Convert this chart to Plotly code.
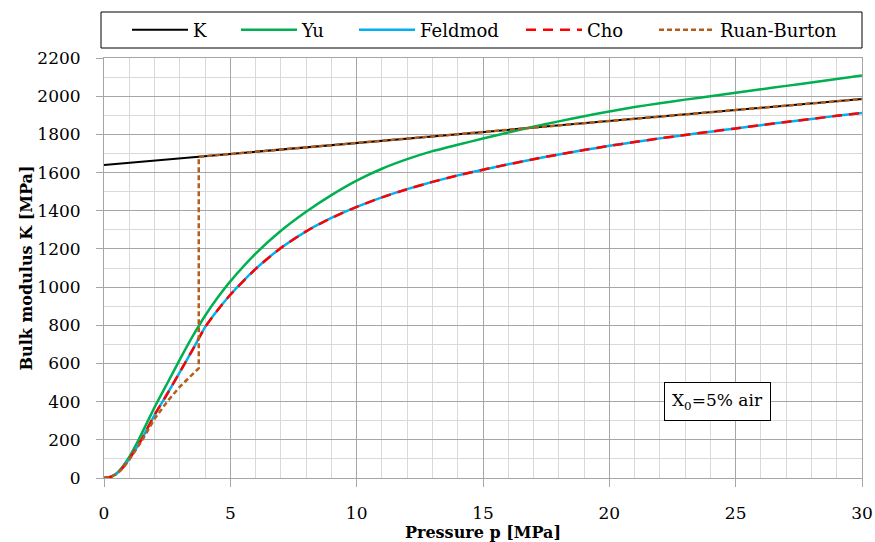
import plotly.graph_objects as go

# ---- data ----
p_vals = [0, 0.25, 0.5, 0.75, 1, 1.25, 1.5, 2, 2.5, 3, 3.5, 4, 4.5, 5, 6, 7, 8, 9, 10,
          11, 12, 13, 14, 15, 16, 17, 18, 19, 20, 21, 22, 23, 24, 25, 26, 27, 28, 29, 30]
yu_vals = [0, 6, 25, 62, 110, 170, 235, 370, 495, 620, 740, 850, 945, 1030, 1175, 1295, 1395, 1482, 1558,
           1620, 1670, 1712, 1746, 1778, 1810, 1840, 1868, 1895, 1920, 1943, 1963, 1982, 2000, 2018,
           2036, 2054, 2072, 2090, 2108]
feldmod_vals = [0, 5, 22, 55, 100, 150, 205, 330, 440, 555, 670, 790, 880, 960, 1095, 1205, 1292, 1362, 1420,
                1470, 1513, 1551, 1585, 1615, 1643, 1670, 1695, 1718, 1740, 1760, 1779, 1797, 1814, 1831,
                1848, 1865, 1881, 1897, 1912]
cho_vals = [0, 5, 22, 55, 100, 150, 205, 330, 440, 555, 670, 790, 880, 960, 1095, 1205, 1292, 1362, 1420,
            1470, 1513, 1551, 1585, 1615, 1643, 1670, 1695, 1718, 1740, 1760, 1779, 1797, 1814, 1831,
            1848, 1865, 1881, 1897, 1912]
k_p = [0, 30]
k_vals = [1640, 1985]
rb_p = [0, 0.25, 0.5, 0.75, 1, 1.25, 1.5, 2, 2.5, 3, 3.5, 3.75, 3.75, 30]
rb_vals = [0, 5, 20, 52, 95, 145, 195, 310, 400, 478, 545, 575, 1683, 1985]

x_ticks = [0, 5, 10, 15, 20, 25, 30]
y_ticks = [0, 200, 400, 600, 800, 1000, 1200, 1400, 1600, 1800, 2000, 2200]

FONT = "DejaVu Serif"
MAJOR = "#a6a6a6"
MINOR = "#d9d9d9"

L, R, T, B = 104, 13, 58, 64
W, H = 875, 542
PW = W - L - R
PH = H - T - B


def px_to_paper_x(px):
    return (px - L) / PW


def py_to_paper_y(py):
    return (H - B - py) / PH


fig = go.Figure()
fig.add_trace(go.Scatter(x=k_p, y=k_vals, mode="lines", name="K", legend="legend",
                         line=dict(color="black", width=2)))
fig.add_trace(go.Scatter(x=p_vals, y=yu_vals, mode="lines", name="Yu", legend="legend2",
                         line=dict(color="#00b050", width=2.5, shape="spline", smoothing=0.5)))
fig.add_trace(go.Scatter(x=p_vals, y=feldmod_vals, mode="lines", name="Feldmod", legend="legend3",
                         line=dict(color="#00b0f0", width=2.5, shape="spline", smoothing=0.5)))
fig.add_trace(go.Scatter(x=p_vals, y=cho_vals, mode="lines", name="Cho", legend="legend4",
                         line=dict(color="#ff0000", width=2.5, dash="10px,7px", shape="spline", smoothing=0.5)))
fig.add_trace(go.Scatter(x=rb_p, y=rb_vals, mode="lines", name="Ruan-Burton", legend="legend5",
                         line=dict(color="#b55d1b", width=2.5, dash="5px,3px")))

legend_starts = {"legend": 137, "legend2": 246, "legend3": 364, "legend4": 531, "legend5": 664}
legend_common = dict(orientation="h", yanchor="middle", xanchor="left", y=py_to_paper_y(30),
                     font=dict(family=FONT, size=18), itemwidth=56,
                     bgcolor="rgba(0,0,0,0)", borderwidth=0)
legend_layout = {}
for key, start in legend_starts.items():
    legend_layout[key] = dict(legend_common, x=px_to_paper_x(start - 10))

fig.update_layout(
    width=W, height=H,
    margin=dict(l=L, r=R, t=T, b=B),
    paper_bgcolor="white", plot_bgcolor="white",
    font=dict(family=FONT, size=17, color="black"),
    showlegend=True,
    xaxis=dict(range=[0, 30], tickvals=x_ticks, showgrid=True, gridcolor=MAJOR, gridwidth=1,
               showline=True, linecolor=MAJOR, linewidth=1, mirror=True, automargin=False,
               ticks="outside", ticklen=8, tickcolor=MAJOR, ticklabelstandoff=12,
               minor=dict(dtick=1, showgrid=True, gridcolor=MINOR, ticks=""),
               zeroline=False,
               title=dict(text="<b>Pressure p [MPa]</b>", font=dict(family=FONT, size=16), standoff=4)),
    yaxis=dict(range=[0, 2200], tickvals=y_ticks, showgrid=True, gridcolor=MAJOR, gridwidth=1,
               showline=True, linecolor=MAJOR, linewidth=1, mirror=True, automargin=False,
               ticks="outside", ticklen=7, tickcolor=MAJOR, ticklabelstandoff=12,
               minor=dict(dtick=100, showgrid=True, gridcolor=MINOR, ticks=""),
               zeroline=False,
               title=dict(text="<b>Bulk modulus K [MPa]</b>", font=dict(family=FONT, size=16), standoff=0)),
    shapes=[dict(type="rect", xref="paper", yref="paper",
                 x0=px_to_paper_x(101), x1=px_to_paper_x(862),
                 y0=py_to_paper_y(48), y1=py_to_paper_y(12),
                 line=dict(color="black", width=1), fillcolor="rgba(0,0,0,0)")],
    annotations=[dict(x=24.3, y=403, xref="x", yref="y", showarrow=False,
                      text="X<sub>0</sub>=5% air", font=dict(family=FONT, size=17),
                      bgcolor="white", bordercolor="black", borderwidth=1, borderpad=7)],
    **legend_layout,
)

fig.write_html("out.html", config={"displayModeBar": False},
               post_script="document.body.style.margin='0';")
